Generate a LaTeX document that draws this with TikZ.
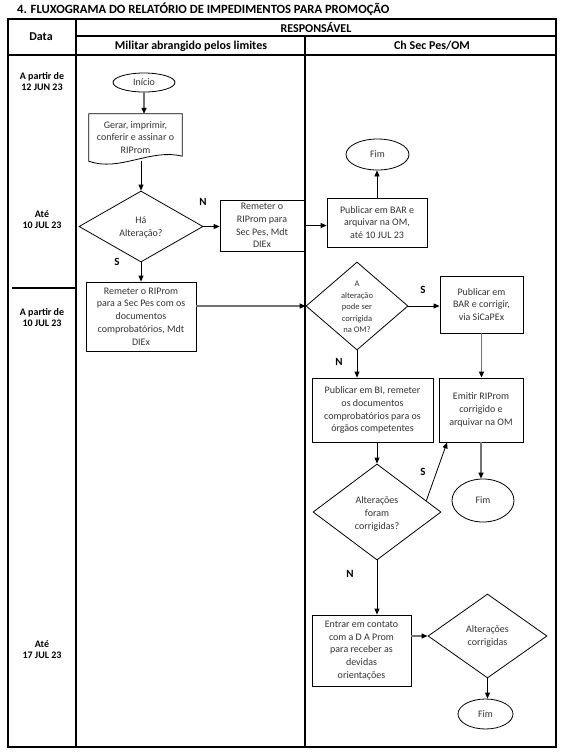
\documentclass[tikz,border=0pt]{standalone}
\usepackage{fontspec}
\setmainfont{Carlito}
\usetikzlibrary{shapes.geometric,arrows.meta,calc}
\begin{document}
\begin{tikzpicture}[x=1pt,y=-1pt,
  tline/.style={line width=1.1pt},
  nfont/.style={font=\fontsize{10}{12.8}\selectfont, text=black!80},
  sfont/.style={font=\fontsize{8.5}{11.4}\selectfont, text=black!80},
  hfont/.style={font=\fontsize{12}{14}\selectfont\bfseries},
  datef/.style={align=center, font=\fontsize{10}{11}\selectfont\bfseries},
  lab/.style={font=\fontsize{11}{12}\selectfont\bfseries},
  box/.style={draw, rectangle, line width=0.8pt, inner sep=0pt, align=center, nfont},
  term/.style={draw, ellipse, line width=0.8pt, inner sep=0pt, nfont},
  dia/.style={draw, diamond, line width=0.8pt, inner sep=0pt},
  arr/.style={line width=0.8pt, -{Triangle[length=6pt,width=5pt]}},
  garr/.style={line width=1.3pt, draw=black!55, -{Triangle[length=6pt,width=5pt,color=black]}}
]
\useasboundingbox (0,0) rectangle (571,756);

% title
\node[anchor=base west, inner sep=0pt, font=\fontsize{12.6}{14}\selectfont\bfseries] (title) at (17,13.5) {4. FLUXOGRAMA DO RELATÓRIO DE IMPEDIMENTOS PARA PROMOÇÃO};

% table
\draw[tline] (8,19) rectangle (556,747);
\draw[tline] (76,19) -- (76,747);
\draw[tline] (76,36) -- (556,36);
\draw[tline] (305,36) -- (305,747);
\draw[tline] (8,55) -- (556,55);
\draw[tline] (12,288) -- (76,288);

\node[hfont] (hdata) at (41,37) {Data};
\node[hfont] (hresp) at (316,27.5) {RESPONSÁVEL};
\node[hfont] (hmil) at (191,46) {Militar abrangido pelos limites};
\node[hfont] (hch) at (432,46) {Ch Sec Pes/OM};

\node[datef] (d1) at (42,82) {A partir de\\12 JUN 23};
\node[datef] (d2) at (42,220) {Até\\10 JUL 23};
\node[datef] (d3) at (42,318) {A partir de\\10 JUL 23};
\node[datef] (d4) at (42,650) {Até\\17 JUL 23};

% nodes
\node[term, minimum width=62pt, minimum height=19pt] (inicio) at (144,82.5) {Início};
\node[minimum width=93pt, minimum height=47pt, inner sep=0pt, align=center, nfont] (gerar) at (135.5,137.5) {Gerar, imprimir,\\conferir e assinar o\\RIProm};
\draw[line width=0.8pt] (gerar.north west) -- (gerar.north east) -- ([yshift=5pt]gerar.south east) .. controls ([xshift=-32pt,yshift=13pt]gerar.south east) and ([xshift=31pt,yshift=-11pt]gerar.south west) .. (gerar.south west) -- cycle;

\node[dia, minimum width=124pt, minimum height=71pt] (ha) at (141,226.5) {};
\node[nfont, align=center] (hat) at (141,227.5) {Há\\Alteração?};

\node[box, minimum width=84pt, minimum height=51pt] (rem1) at (262,225.5) {Remeter o\\RIProm para\\Sec Pes, Mdt\\DIEx};
\node[box, minimum width=100pt, minimum height=49pt] (pub1) at (377,222.5) {Publicar em BAR e\\arquivar na OM,\\até 10 JUL 23};
\node[term, minimum width=63pt, minimum height=31pt] (fim1) at (377.5,154.5) {Fim};

\node[box, minimum width=110pt, minimum height=69pt] (rem2) at (141,316.5) {Remeter o RIProm\\para a Sec Pes com os\\documentos\\comprobatórios, Mdt\\DIEx};

\node[dia, minimum width=102pt, minimum height=88pt] (ad) at (357,306) {};
\node[sfont, align=center] (adt) at (357,307) {A\\alteração\\pode ser\\corrigida\\na OM?};

\node[box, minimum width=83pt, minimum height=57pt] (pubcor) at (481.5,304.5) {Publicar em\\BAR e corrigir,\\via SiCaPEx};
\node[box, minimum width=121pt, minimum height=64pt] (pubbi) at (372.5,410) {Publicar em BI, remeter\\os documentos\\comprobatórios para os\\órgãos competentes};
\node[box, minimum width=84pt, minimum height=64pt] (emitir) at (481,410) {Emitir RIProm\\corrigido e\\arquivar na OM};

\node[dia, minimum width=128pt, minimum height=96pt] (afc) at (377,512) {};
\node[nfont, align=center] (afct) at (377,514) {Alterações\\foram\\corrigidas?};
\node[term, minimum width=62pt, minimum height=43pt] (fim2) at (483,500.5) {Fim};

\node[box, minimum width=99pt, minimum height=71pt] (entrar) at (361.5,650.5) {Entrar em contato\\com a D A Prom\\para receber as\\devidas\\orientações};
\node[dia, minimum width=119pt, minimum height=84pt] (ac) at (487.5,636) {};
\node[nfont, align=center] (act) at (487.5,636) {Alterações\\corrigidas};
\node[term, minimum width=55pt, minimum height=30pt] (fim3) at (485.5,714) {Fim};

% connectors
\draw[garr] (inicio.south) -- (inicio.south |- gerar.north);
\draw[arr] (ha.north |- gerar.south) -- (ha.north);
\draw[arr] (ha.east) -- (ha.east -| rem1.west);
\draw[arr] (rem1.east) -- (rem1.east -| pub1.west);
\draw[arr] (pub1.north) -- (pub1.north |- fim1.south);
\draw[arr] (ha.south) -- (ha.south |- rem2.north);
\draw[garr] (rem2.east |- ad.west) -- (ad.west);
\draw[arr] (ad.east) -- (ad.east -| pubcor.west);
\draw[arr] (ad.south) -- (ad.south |- pubbi.north);
\draw[garr] (pubcor.south) -- (pubcor.south |- emitir.north);
\draw[arr] (afc.north |- pubbi.south) -- (afc.north);
\draw[garr] (emitir.south) -- (emitir.south |- fim2.north);
\draw[arr] ($(afc.east)!0.234!(afc.north)$) -- ($(emitir.south west)!0.1!(emitir.south east)$);
\draw[arr] (afc.south) -- (afc.south |- entrar.north);
\draw[garr] (entrar.east |- ac.west) -- (ac.west);
\draw[arr] (ac.south) -- (ac.south |- fim3.north);

% labels
\node[lab] (ln1) at (203,202) {N};
\node[lab] (ls1) at (117,262) {S};
\node[lab] (ls2) at (423,290) {S};
\node[lab] (ln2) at (339,362) {N};
\node[lab] (ls3) at (423,472) {S};
\node[lab] (ln3) at (350,574) {N};
\end{tikzpicture}
\end{document}
